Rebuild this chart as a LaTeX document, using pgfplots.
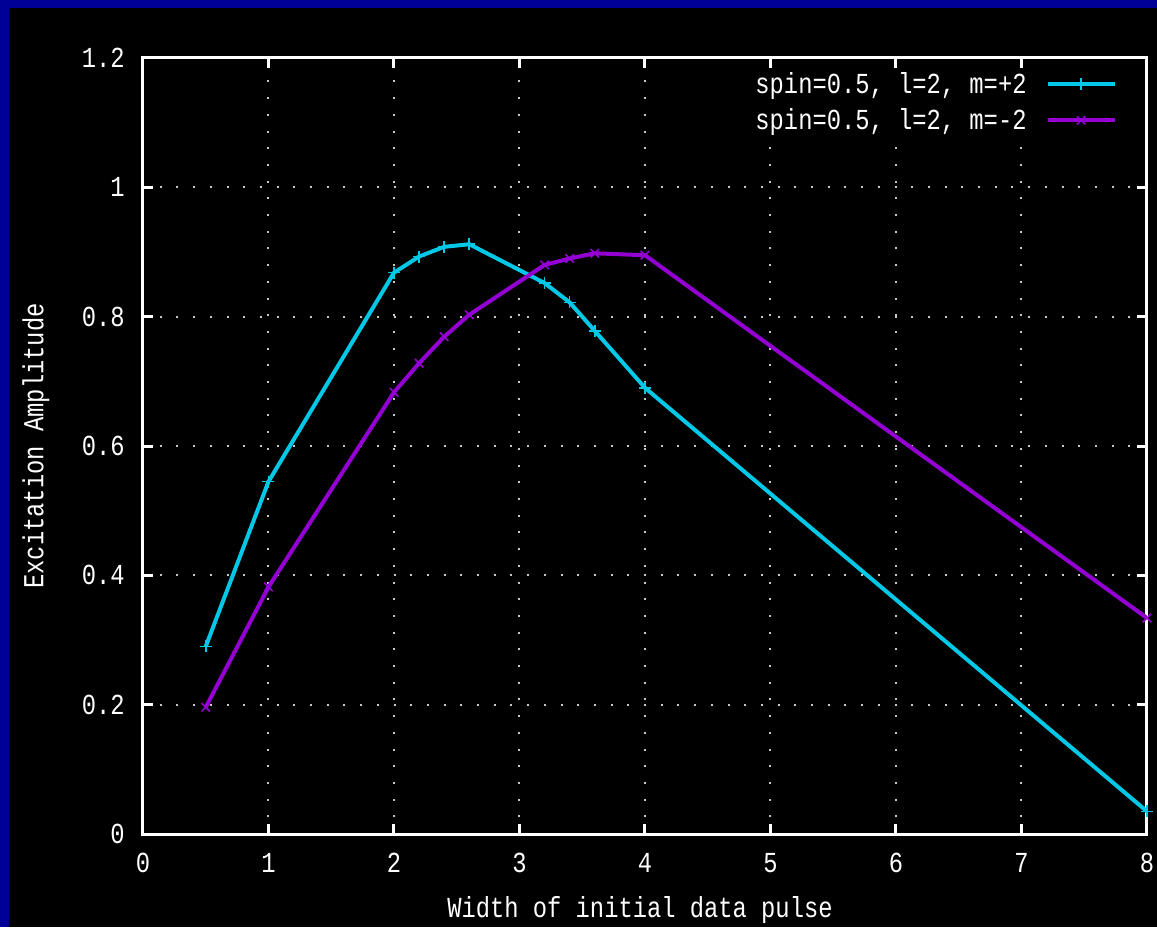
\documentclass[border=0pt]{standalone}
\usepackage{fontspec}
\setmainfont{Liberation Mono}[FakeStretch=0.82]
\usepackage{pgfplots}
\pgfplotsset{compat=1.18}
\definecolor{gpblue}{RGB}{0,0,150}
\definecolor{gpcyan}{RGB}{0,200,230}
\definecolor{gppurple}{RGB}{148,0,211}
\definecolor{gpgrid}{RGB}{200,200,200}
\begin{document}
\begin{tikzpicture}
\path[use as bounding box] (0,0) rectangle (578.5pt,463.5pt);
\fill[gpblue] (0,0) rectangle (578.5pt,463.5pt);
\fill[black] (4.5pt,0) rectangle (578.5pt,459.5pt);
\begin{axis}[
  at={(71.5pt,46.5pt)}, anchor=south west,
  scale only axis, width=502pt, height=388pt,
  xmin=0, xmax=8, ymin=0, ymax=1.2,
  xtick={0,1,...,8}, ytick={0,0.2,...,1.2},
  /pgf/number format/assume math mode=true,
  font=\fontsize{14.5}{16}\selectfont,
  every tick label/.append style={text=white},
  yticklabel style={inner sep=0pt, xshift=-9pt, anchor=east},
  xticklabel style={inner sep=0pt, yshift=-9.5pt, anchor=north},
  axis line style={white, line width=1.5pt},
  tick style={white, line width=1.5pt},
  major tick length=5pt,
  tick align=inside, xtick pos=both, ytick pos=both,
  grid=major,
  grid style={gpgrid, line width=1pt, dash pattern=on 1pt off 7.35pt},
  xlabel={Width of initial data pulse},
  ylabel={Excitation Amplitude},
  xlabel style={text=white, at={(axis description cs:0.495,-0.098)}, anchor=center},
  ylabel style={text=white, at={(axis description cs:-0.1066,0.5)}, anchor=center},
  legend plot pos=right,
  legend cell align=right,
  legend style={at={(rel axis cs:1,1)}, anchor=north east, xshift=-15pt, yshift=-5pt,
    draw=none, fill=black, text=white, inner sep=0pt, column sep=7.5pt, row sep=2pt,
    font=\fontsize{14.5}{16}\selectfont},
  legend image code/.code={\draw[mark repeat=2,mark phase=2,#1] plot coordinates {(0pt,0pt) (16.75pt,0pt) (33.5pt,0pt)};},
]
\addplot[gpcyan, line width=2pt, mark=+, mark size=3pt, mark options={line width=0.8pt, solid}] coordinates {
(0.5,0.29) (1,0.545) (2,0.868) (2.2,0.893) (2.4,0.908) (2.6,0.912) (3.2,0.852) (3.4,0.822) (3.6,0.778) (4,0.69) (8,0.035)};
\addlegendentry{spin=0.5, l=2, m=+2}
\addplot[gppurple, line width=2pt, mark=x, mark size=3pt, mark options={line width=0.8pt, solid}] coordinates {
(0.5,0.196) (1,0.382) (2,0.683) (2.2,0.728) (2.4,0.769) (2.6,0.803) (3.2,0.88) (3.4,0.89) (3.6,0.898) (4,0.895) (8,0.334)};
\addlegendentry{spin=0.5, l=2, m=-2}
\end{axis}
\end{tikzpicture}
\end{document}
